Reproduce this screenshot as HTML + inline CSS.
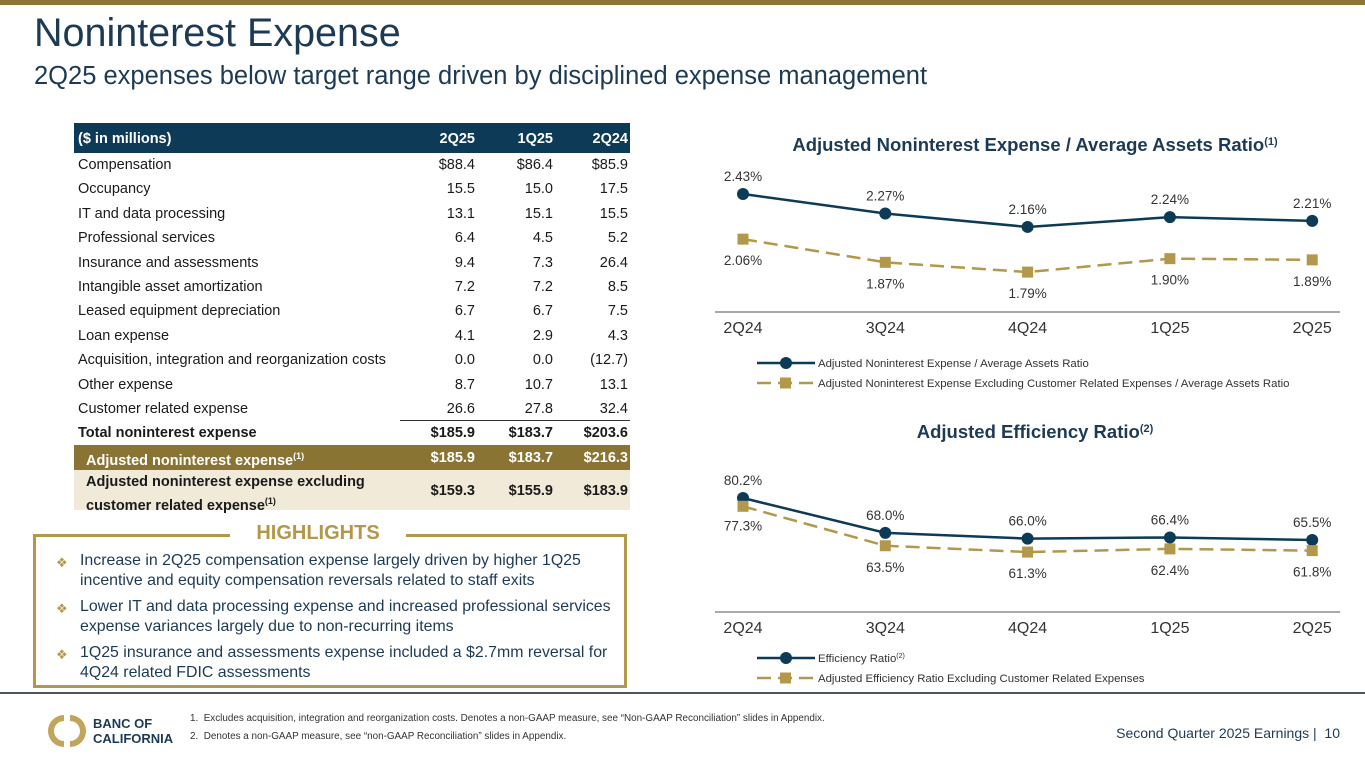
<!DOCTYPE html>
<html><head><meta charset="utf-8"><style>
body{margin:0;width:1365px;height:768px;overflow:hidden;background:#fff;font-family:"Liberation Sans",sans-serif;position:relative;color:#1a1a1a}
.a{position:absolute;white-space:nowrap}
.row{position:absolute;left:74px;width:556px;height:24px;font-size:14.5px}
.row span{position:absolute;top:4px}
.c1{right:155px}.c2{right:77px}.c3{right:2px}
.hl{position:absolute;left:80px;font-size:15.9px;color:#1d3a55;line-height:20px}
.dia{position:absolute;left:56px;color:#b3974a;font-size:13px}
</style></head><body>
<div class="a" style="left:0;top:0;width:1365px;height:5px;background:#8b7636"></div>
<div class="a" style="left:34px;top:11px;font-size:39.5px;color:#1d3a55">Noninterest Expense</div>
<div class="a" style="left:34px;top:62px;font-size:25.5px;color:#1d3a55">2Q25 expenses below target range driven by disciplined expense management</div>

<div>
<div class="row" style="top:123px;height:30px;background:#0d3a57;color:#fff;font-weight:bold"><span style="left:4px;top:8px">($ in millions)</span><span class="c1" style="top:8px">2Q25</span><span class="c2" style="top:8px">1Q25</span><span class="c3" style="top:8px">2Q24</span></div>
</div>
<div id="rows"></div>
<div class="a" style="left:400px;top:420px;width:230px;height:1px;background:#333"></div>
<div class="row" style="top:445px;height:25px;background:#8a7433;color:#fff;font-weight:bold"><span style="left:12px;top:6px">Adjusted noninterest expense<sup style="font-size:9px">(1)</sup></span><span class="c1" style="top:5px">$185.9</span><span class="c2" style="top:5px">$183.7</span><span class="c3" style="top:5px">$216.3</span></div>
<div class="row" style="top:470px;height:40px;background:#f1ead9;font-weight:bold"><span style="left:12px;top:3px;line-height:19px">Adjusted noninterest expense excluding<br>customer related expense<sup style="font-size:9px">(1)</sup></span><span class="c1" style="top:13px">$159.3</span><span class="c2" style="top:13px">$155.9</span><span class="c3" style="top:13px">$183.9</span></div>

<div class="a" style="left:33px;top:535px;width:588px;height:150px;border:3px solid #b3974a;border-top:none"></div>
<div class="a" style="left:33px;top:534px;width:594px;height:3px;background:#b3974a"></div>
<div class="a" style="left:230px;top:522px;width:176px;text-align:center;background:#fff;color:#b3974a;font-weight:bold;font-size:20px">HIGHLIGHTS</div>
<div class="dia" style="top:555px">❖</div><div class="hl" style="top:551px">Increase in 2Q25 compensation expense largely driven by higher 1Q25<br>incentive and equity compensation reversals related to staff exits</div>
<div class="dia" style="top:601px">❖</div><div class="hl" style="top:597px">Lower IT and data processing expense and increased professional services<br>expense variances largely due to non-recurring items</div>
<div class="dia" style="top:647px">❖</div><div class="hl" style="top:643px">1Q25 insurance and assessments expense included a $2.7mm reversal for<br>4Q24 related FDIC assessments</div>

<div class="a" style="left:0;top:692px;width:1365px;height:2px;background:#4a5560"></div>
<svg class="a" style="left:48px;top:712px" width="38" height="38" viewBox="0 0 38 38"><path d="M16 3 A16 16 0 0 0 16 35 L16 29 A10 10 0 0 1 16 9Z" fill="#c2a55a"/><path d="M22 3 A16 16 0 0 1 22 35 L22 29 A10 10 0 0 0 22 9Z" fill="#c2a55a"/></svg>
<div class="a" style="left:93px;top:716px;font-size:13px;font-weight:bold;color:#1d3a55;line-height:15px">BANC OF<br>CALIFORNIA</div>
<div class="a" style="left:190px;top:713px;font-size:9.9px;color:#333">1.&nbsp; Excludes acquisition, integration and reorganization costs. Denotes a non-GAAP measure, see “Non-GAAP Reconciliation” slides in Appendix.</div>
<div class="a" style="left:190px;top:731px;font-size:9.9px;color:#333">2.&nbsp; Denotes a non-GAAP measure, see “non-GAAP Reconciliation” slides in Appendix.</div>
<div class="a" style="right:25px;top:725px;font-size:14px;color:#1d3a55">Second Quarter 2025 Earnings |&nbsp; 10</div>

<svg class="a" id="charts" style="left:0;top:0" width="1365" height="768" font-family="Liberation Sans, sans-serif"></svg>
<script>
const rowLabels=["Compensation","Occupancy","IT and data processing","Professional services","Insurance and assessments","Intangible asset amortization","Leased equipment depreciation","Loan expense","Acquisition, integration and reorganization costs","Other expense","Customer related expense","Total noninterest expense"];
const col2Q25=["$88.4","15.5","13.1","6.4","9.4","7.2","6.7","4.1","0.0","8.7","26.6","$185.9"];
const col1Q25=["$86.4","15.0","15.1","4.5","7.3","7.2","6.7","2.9","0.0","10.7","27.8","$183.7"];
const col2Q24=["$85.9","17.5","15.5","5.2","26.4","8.5","7.5","4.3","(12.7)","13.1","32.4","$203.6"];
const R=document.getElementById('rows');
rowLabels.forEach((l,i)=>{const d=document.createElement('div');d.className='row';d.style.top=(153+i*24.4)+'px';
if(i==11)d.style.fontWeight='bold';


d.innerHTML=`<span style="left:4px">${l}</span><span class="c1">${col2Q25[i]}</span><span class="c2">${col1Q25[i]}</span><span class="c3">${col2Q24[i]}</span>`;R.appendChild(d);});

const cats=["2Q24","3Q24","4Q24","1Q25","2Q25"];
const ratioA=[2.43,2.27,2.16,2.24,2.21];
const ratioB=[2.06,1.87,1.79,1.90,1.89];
const effA=[80.2,68.0,66.0,66.4,65.5];
const effB=[77.3,63.5,61.3,62.4,61.8];
const S=document.getElementById('charts');const NS='http://www.w3.org/2000/svg';
function el(t,a,txt){const e=document.createElementNS(NS,t);for(const k in a)e.setAttribute(k,a[k]);if(txt!==undefined)e.textContent=txt;S.appendChild(e);return e;}
const xs=i=>743+i*142.3;
function chart(o){
 const t=el('text',{x:1035,y:o.ty,'text-anchor':'middle','font-size':18.5,'font-weight':'bold',fill:'#1d3a55'});t.innerHTML=o.title;
 
 
 const y=o.y;
 const pA=o.a.map((v,i)=>xs(i)+','+y(v)).join(' '),pB=o.b.map((v,i)=>xs(i)+','+y(v)).join(' ');
 const lb=el('polyline',{points:pB,fill:'none',stroke:'#b3974a','stroke-width':2.5,'stroke-dasharray':'14 7'});
 
 
 const la=el('polyline',{points:pA,fill:'none',stroke:'#0d3a57','stroke-width':2.5});
 
 
 o.a.forEach((v,i)=>{const c=el('circle',{cx:xs(i),cy:y(v),r:6,fill:'#0d3a57'});
  
  
  el('text',{x:xs(i),y:y(v)-13,'text-anchor':'middle','font-size':13.5,fill:'#333'},o.fa(v));});
 o.b.forEach((v,i)=>{const r=el('rect',{x:xs(i)-5.5,y:y(v)-5.5,width:11,height:11,fill:'#b3974a'});
  
  
  el('text',{x:xs(i),y:y(v)+(i==0?o.off0:26),'text-anchor':'middle','font-size':13.5,fill:'#333'},o.fa(v));});
 el('line',{x1:715,x2:1340,y1:o.ax,y2:o.ax,stroke:'#555','stroke-width':1});
 cats.forEach((c,i)=>{const tx=el('text',{x:xs(i),y:o.ax+21,'text-anchor':'middle','font-size':16,fill:'#333'},c);
  
  });
 [[o.la,false],[o.lb,true]].forEach(([txt,d],k)=>{const ly=o.ly+k*20;
  el('line',{x1:757,x2:815,y1:ly,y2:ly,stroke:d?'#b3974a':'#0d3a57','stroke-width':2.5,'stroke-dasharray':d?'14 7':'none'});
  if(d)el('rect',{x:780,y:ly-5.5,width:11,height:11,fill:'#b3974a'});else el('circle',{cx:786,cy:ly,r:6,fill:'#0d3a57'});
  const lt=el('text',{x:818,y:ly+4,'font-size':11.4,fill:'#333'});lt.innerHTML=txt;
  
  });
}
chart({ty:151,title:'Adjusted Noninterest Expense / Average Assets Ratio<tspan font-size="11" dy="-6">(1)</tspan>',a:ratioA,b:ratioB,y:v=>194+(2.43-v)*122,fa:v=>v.toFixed(2)+'%',off0:26,ax:312,ly:363,
 la:'Adjusted Noninterest Expense / Average Assets Ratio',lb:'Adjusted Noninterest Expense Excluding Customer Related Expenses / Average Assets Ratio'});
chart({ty:438,title:'Adjusted Efficiency Ratio<tspan font-size="11" dy="-6">(2)</tspan>',a:effA,b:effB,y:v=>498+(80.2-v)*2.86,fa:v=>v.toFixed(1)+'%',off0:24,ax:612,ly:658,
 la:'Efficiency Ratio<tspan font-size="7" dy="-4">(2)</tspan>',lb:'Adjusted Efficiency Ratio Excluding Customer Related Expenses'});
</script>
</body></html>
